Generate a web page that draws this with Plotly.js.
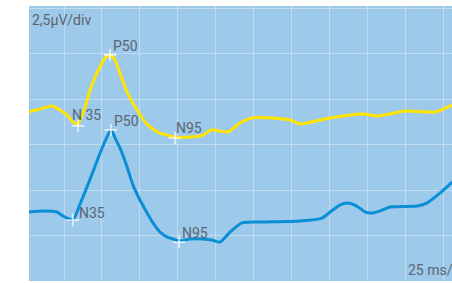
<!DOCTYPE html>
<html><head><meta charset="utf-8">
<script src="https://cdn.plot.ly/plotly-3.0.1.min.js"></script>
<style>html,body{margin:0;padding:0;background:#fff;overflow:hidden}#c{width:452px;height:283px}</style>
</head><body><div id="c"></div>
<script>
// time in ms, amplitude in µV
const yellowT = [1.9,9.2,17.1,22.4,27.0,30.9,34.2,38.9,42.2,45.5,48.8,52.0,55.3,58.6,61.9,65.2,68.5,73.2,78.4,83.7,88.3,92.9,98.2,108.1,116.7,122.0,127.9,133.2,141.1,149.0,169.5,174.1,180.7,200.5,222.2,232.2,250.0,269.8,281];
const yellowV = [9.29,9.45,9.62,9.40,9.12,8.74,8.63,9.56,10.49,11.21,11.76,12.25,12.42,12.14,11.43,10.66,10.05,9.40,8.74,8.35,8.13,8.02,7.91,7.91,8.02,8.30,8.24,8.19,8.68,8.96,8.90,8.85,8.63,8.96,9.18,9.07,9.34,9.29,9.67];
const blueT = [1.9,12.5,20.4,24.3,27.0,30.9,35.6,42.2,48.8,52.7,56.0,59.3,61.9,66.6,70.5,75.1,79.8,83.7,88.3,92.9,96.9,100.9,108.1,116.7,122.6,127.9,134.5,142.4,154.3,180.7,195.2,200.5,207.1,211.7,215.0,219.0,223.6,228.9,233.5,240.1,257.9,264.5,273.1,281];
const blueV = [3.79,3.85,3.79,3.57,3.46,3.35,4.23,5.60,7.03,7.80,8.30,7.75,7.31,6.26,5.27,4.45,3.74,3.19,2.69,2.42,2.31,2.20,2.31,2.31,2.25,2.14,2.69,3.19,3.24,3.30,3.46,3.79,4.18,4.29,4.23,4.07,3.79,3.74,3.85,4.07,4.12,4.29,4.84,5.44];
const peakNames = ["N35","P50","N95"];
const yellowPeakLabels = ["N 35","P50","N95"];
const yellowPeakT = [34.2,55.3,98.2];
const yellowPeakV = [8.52,12.42,7.86];
const bluePeakT = [30.9,56.0,100.9];
const bluePeakV = [3.35,8.30,2.14];
const scaleY = "2,5µV/div";
const scaleX = "25 ms/div";

const txt = '#5b6570';
const font = {family:'Roboto, Noto Sans, sans-serif', size:14, color:txt};
const yellow = '#ffe400', blue = '#0a8fd6';

const traces = [
 {x:yellowT,y:yellowV,mode:'lines',line:{color:yellow,width:3,shape:'spline',smoothing:0.6},hoverinfo:'skip'},
 {x:blueT,y:blueV,mode:'lines',line:{color:blue,width:3,shape:'spline',smoothing:0.6},hoverinfo:'skip'},
 {x:yellowPeakT,y:yellowPeakV,mode:'markers',marker:{symbol:'cross-thin',size:9,line:{color:'#ffffff',width:1.2}},hoverinfo:'skip'},
 {x:bluePeakT,y:bluePeakV,mode:'markers',marker:{symbol:'cross-thin',size:9,line:{color:'#ffffff',width:1.2}},hoverinfo:'skip'}
];

// label offsets (ms, µV) relative to peaks
const yOff = [[-5.0,0.6],[0.6,0.49],[-0.5,0.55]];
const bOff = [[2.9,0.39],[0.6,0.49],[0.6,0.5]];
const ann = [];
yellowPeakLabels.forEach((n,i)=>ann.push({x:yellowPeakT[i]+yOff[i][0],y:yellowPeakV[i]+yOff[i][1],xref:'x',yref:'y',text:n,showarrow:false,xanchor:'left',yanchor:'middle',font:font}));
peakNames.forEach((n,i)=>ann.push({x:bluePeakT[i]+bOff[i][0],y:bluePeakV[i]+bOff[i][1],xref:'x',yref:'y',text:n,showarrow:false,xanchor:'left',yanchor:'middle',font:font}));
ann.push({x:0.003,y:0.949,xref:'paper',yref:'paper',text:scaleY,showarrow:false,xanchor:'left',yanchor:'middle',font:font});
ann.push({x:0.891,y:0.04,xref:'paper',yref:'paper',text:scaleX,showarrow:false,xanchor:'left',yanchor:'middle',font:font});

const layout = {
 width:452,height:283,
 margin:{l:29,r:0,t:6,b:2},
 paper_bgcolor:'#ffffff',plot_bgcolor:'#9dc9ea',
 showlegend:false,
 xaxis:{range:[1.91,280.9],tick0:0,dtick:25,showgrid:true,gridcolor:'rgba(255,255,255,0.35)',gridwidth:1,showticklabels:false,ticks:'',zeroline:false,showline:false,fixedrange:true},
 yaxis:{range:[0,15.11],tick0:0,dtick:2.5,showgrid:true,gridcolor:'rgba(255,255,255,0.35)',gridwidth:1,showticklabels:false,ticks:'',zeroline:false,showline:false,fixedrange:true},
 annotations:ann
};
Plotly.newPlot('c',traces,layout,{staticPlot:true,displayModeBar:false});
</script></body></html>
